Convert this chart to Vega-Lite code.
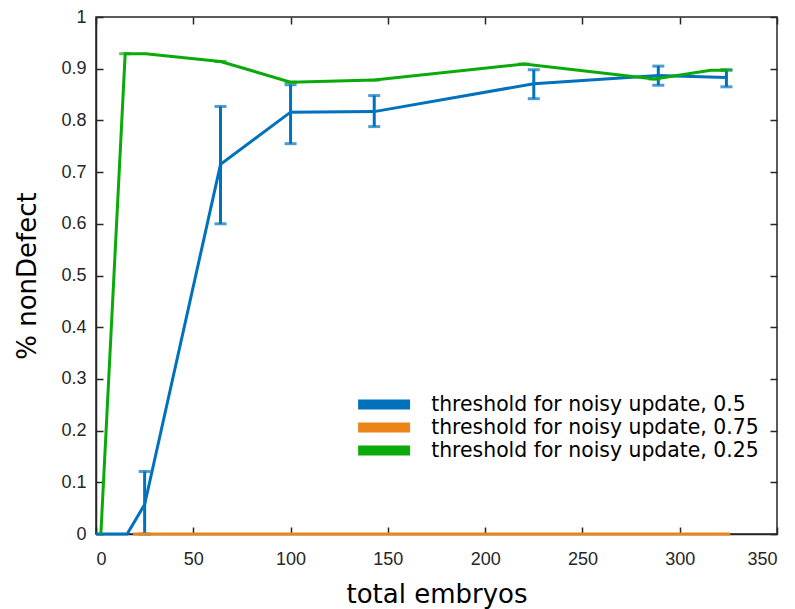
{
  "$schema": "https://vega.github.io/schema/vega-lite/v6.json",
  "width": 681,
  "height": 517,
  "autosize": {"type": "none"},
  "padding": {"left": 96, "top": 17, "right": 18, "bottom": 75},
  "background": "white",
  "config": {
    "view": {"stroke": "#262626", "strokeWidth": 1.5},
    "axis": {
      "grid": false,
      "domainColor": "#262626",
      "domainWidth": 1.5,
      "tickColor": "#262626",
      "tickWidth": 1.5,
      "labelFont": "Liberation Sans",
      "labelFontSize": 18,
      "labelColor": "#262626",
      "titleFont": "DejaVu Sans",
      "titleFontSize": 26,
      "titleFontWeight": "normal",
      "titleColor": "#000000"
    }
  },
  "datasets": {
    "lines": [
      {"series": "threshold for noisy update, 0.5", "x": 0, "y": 0},
      {"series": "threshold for noisy update, 0.5", "x": 16, "y": 0},
      {"series": "threshold for noisy update, 0.5", "x": 25, "y": 0.057},
      {"series": "threshold for noisy update, 0.5", "x": 64, "y": 0.715},
      {"series": "threshold for noisy update, 0.5", "x": 100, "y": 0.816},
      {"series": "threshold for noisy update, 0.5", "x": 143, "y": 0.817},
      {"series": "threshold for noisy update, 0.5", "x": 225, "y": 0.871},
      {"series": "threshold for noisy update, 0.5", "x": 289, "y": 0.887},
      {"series": "threshold for noisy update, 0.5", "x": 324, "y": 0.883},
      {"series": "threshold for noisy update, 0.75", "x": 19, "y": 0},
      {"series": "threshold for noisy update, 0.75", "x": 326, "y": 0},
      {"series": "threshold for noisy update, 0.25", "x": 2.5, "y": 0},
      {"series": "threshold for noisy update, 0.25", "x": 15, "y": 0.929},
      {"series": "threshold for noisy update, 0.25", "x": 25.5, "y": 0.929},
      {"series": "threshold for noisy update, 0.25", "x": 64, "y": 0.914},
      {"series": "threshold for noisy update, 0.25", "x": 100, "y": 0.874},
      {"series": "threshold for noisy update, 0.25", "x": 143, "y": 0.878},
      {"series": "threshold for noisy update, 0.25", "x": 220, "y": 0.909},
      {"series": "threshold for noisy update, 0.25", "x": 287, "y": 0.88},
      {"series": "threshold for noisy update, 0.25", "x": 316, "y": 0.897},
      {"series": "threshold for noisy update, 0.25", "x": 324, "y": 0.897}
    ],
    "err": [
      {"x": 25, "lo": 0, "hi": 0.121},
      {"x": 64, "lo": 0.6, "hi": 0.827},
      {"x": 100, "lo": 0.755, "hi": 0.869},
      {"x": 143, "lo": 0.788, "hi": 0.848},
      {"x": 225, "lo": 0.842, "hi": 0.898},
      {"x": 289, "lo": 0.868, "hi": 0.905},
      {"x": 324, "lo": 0.865, "hi": 0.898}
    ],
    "gcaps": [
      {"x": 15, "y": 0.929},
      {"x": 64, "y": 0.914},
      {"x": 100, "y": 0.874},
      {"x": 143, "y": 0.878},
      {"x": 220, "y": 0.909},
      {"x": 287, "y": 0.88},
      {"x": 324, "y": 0.897}
    ]
  },
  "layer": [
    {
      "data": {"name": "lines"},
      "transform": [{"filter": "datum.series == 'threshold for noisy update, 0.5'"}],
      "mark": {"type": "line", "strokeWidth": 3, "clip": false},
      "encoding": {
        "x": {
          "field": "x", "type": "quantitative",
          "scale": {"domain": [0, 350], "nice": false, "zero": false},
          "axis": {
            "orient": "bottom",
            "values": [0, 50, 100, 150, 200, 250, 300, 350],
            "ticks": false,
            "labelPadding": 16,
            "title": "total embryos",
            "titleY": 68,
            "titleBaseline": "alphabetic"
          }
        },
        "y": {
          "field": "y", "type": "quantitative",
          "scale": {"domain": [0, 1], "nice": false, "zero": false},
          "axis": {
            "orient": "left",
            "values": [0, 0.1, 0.2, 0.3, 0.4, 0.5, 0.6, 0.7, 0.8, 0.9, 1],
            "format": "~g",
            "ticks": false,
            "labelPadding": 10,
            "title": "% nonDefect",
            "titleX": -69,
            "titleY": 258.5,
            "titleAlign": "center",
            "titleBaseline": "middle"
          }
        },
        "color": {
          "field": "series", "type": "nominal",
          "scale": {
            "domain": ["threshold for noisy update, 0.5", "threshold for noisy update, 0.75", "threshold for noisy update, 0.25"],
            "range": ["#0072BD", "#EB8419", "#0AAA0A"]
          },
          "legend": {
            "orient": "none",
            "legendX": 277.6,
            "legendY": 377,
            "title": null,
            "padding": 0,
            "symbolType": "M-2.5,-0.48L2.5,-0.48L2.5,0.48L-2.5,0.48Z",
            "symbolSize": 432,
            "symbolStrokeWidth": 0,
            "labelFont": "DejaVu Sans",
            "labelFontSize": 20.4,
            "labelColor": "#000000",
            "labelLimit": 500,
            "labelOffset": 36.6,
            "rowPadding": 2,
            "encode": {
              "symbols": {"update": {"fill": {"scale": "color", "field": "value"}, "strokeWidth": {"value": 0}}}
            }
          }
        }
      }
    },
    {
      "data": {"name": "err"},
      "mark": {"type": "rule", "strokeWidth": 3, "color": "#0072BD"},
      "encoding": {
        "x": {
          "field": "x", "type": "quantitative",
          "axis": {"orient": "bottom", "values": [0, 50, 100, 150, 200, 250, 300, 350], "offset": -7, "tickSize": 7, "domain": false, "labels": false, "title": null}
        },
        "y": {
          "field": "lo", "type": "quantitative",
          "axis": {"orient": "left", "values": [0, 0.1, 0.2, 0.3, 0.4, 0.5, 0.6, 0.7, 0.8, 0.9, 1], "offset": -7, "tickSize": 7, "domain": false, "labels": false, "title": null}
        },
        "y2": {"field": "hi"}
      }
    },
    {
      "data": {"name": "err"},
      "mark": {"type": "tick", "orient": "horizontal", "size": 12, "thickness": 3, "color": "#0072BD"},
      "encoding": {
        "x": {"field": "x", "type": "quantitative", "axis": null},
        "y": {"field": "lo", "type": "quantitative", "axis": null}
      }
    },
    {
      "data": {"name": "err"},
      "mark": {"type": "tick", "orient": "horizontal", "size": 12, "thickness": 3, "color": "#0072BD"},
      "encoding": {
        "x": {"field": "x", "type": "quantitative", "axis": null},
        "y": {"field": "hi", "type": "quantitative", "axis": null}
      }
    },
    {
      "data": {"name": "lines"},
      "transform": [{"filter": "datum.series == 'threshold for noisy update, 0.75'"}],
      "mark": {"type": "line", "strokeWidth": 3, "clip": false},
      "encoding": {
        "x": {
          "field": "x", "type": "quantitative",
          "axis": {"orient": "top", "values": [0, 50, 100, 150, 200, 250, 300, 350], "offset": -7, "tickSize": 7, "domain": false, "labels": false, "title": null}
        },
        "y": {
          "field": "y", "type": "quantitative",
          "axis": {"orient": "right", "values": [0, 0.1, 0.2, 0.3, 0.4, 0.5, 0.6, 0.7, 0.8, 0.9, 1], "offset": -7, "tickSize": 7, "domain": false, "labels": false, "title": null}
        },
        "color": {"field": "series", "type": "nominal"}
      }
    },
    {
      "data": {"name": "lines"},
      "transform": [{"filter": "datum.series == 'threshold for noisy update, 0.25'"}],
      "mark": {"type": "line", "strokeWidth": 3, "clip": false},
      "encoding": {
        "x": {"field": "x", "type": "quantitative", "axis": null},
        "y": {"field": "y", "type": "quantitative", "axis": null},
        "color": {"field": "series", "type": "nominal"}
      }
    },
    {
      "data": {"name": "gcaps"},
      "mark": {"type": "tick", "orient": "horizontal", "size": 12, "thickness": 3, "color": "#0AAA0A"},
      "encoding": {
        "x": {"field": "x", "type": "quantitative", "axis": null},
        "y": {"field": "y", "type": "quantitative", "axis": null}
      }
    }
  ],
  "resolve": {"axis": {"x": "independent", "y": "independent"}}
}
